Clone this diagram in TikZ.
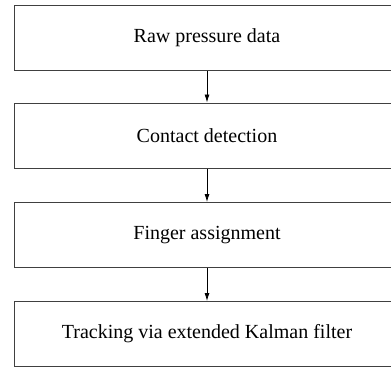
\documentclass[tikz,border=0pt]{standalone}
\usepackage{fontspec}
\setmainfont{Liberation Serif}
\usetikzlibrary{arrows.meta}
\begin{document}
\begin{tikzpicture}[x=1pt,y=1pt,
    stage/.style={draw=black!75,line width=1pt,minimum width=386pt,minimum height=65pt,font=\fontsize{20}{24}\selectfont},
    flow/.style={-{Latex[length=8pt,width=5pt]},line width=0.8pt}]
    \useasboundingbox (0,0) rectangle (391,368);
    \node[stage] (RP) at (207,330) {Raw pressure data};
    \node[stage] (CD) at (207,232.5) {Contact detection};
    \node[stage] (FA) at (207,133) {Finger assignment};
    \node[stage] (TK) at (207,34) {Tracking via extended Kalman filter};

    \draw[flow] (RP)--(CD);
    \draw[flow] (CD)--(FA);
    \draw[flow] (FA)--(TK);
\end{tikzpicture}
\end{document}
